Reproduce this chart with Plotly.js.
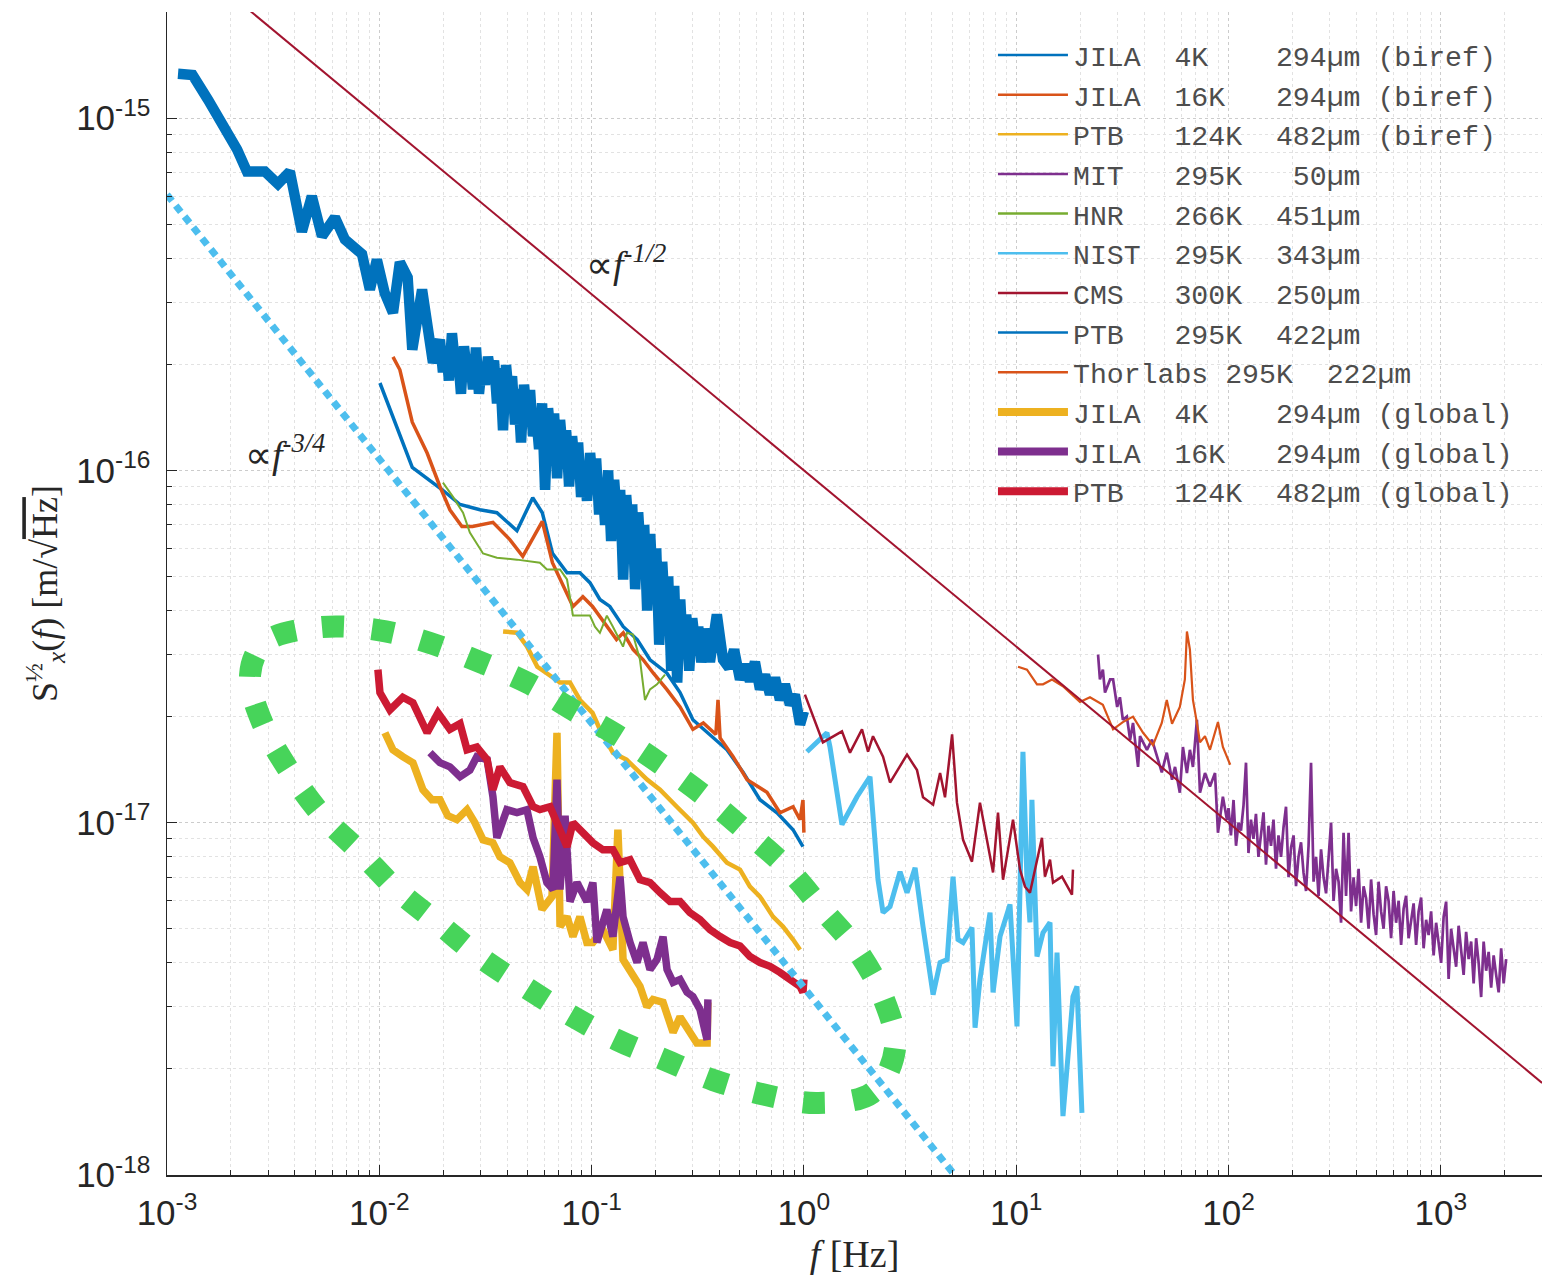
<!DOCTYPE html>
<html>
<head>
<meta charset="utf-8">
<script src="https://cdn.plot.ly/plotly-3.0.1.min.js"></script>
<style>html,body{margin:0;padding:0;background:#fff;}</style>
</head>
<body>
<div id="chart" style="width:1542px;height:1282px;"></div>
<script>
// ---------------- DATA (f in Hz, S in units of 1e-17 m/sqrt(Hz)) ----------------
const f_ptb295 = [1.127e-3,1.32e-3,1.56e-3,1.88e-3,2.14e-3,2.38e-3,2.89e-3,3.33e-3,3.79e-3,4.32e-3,4.81e-3,5.37e-3,6.18e-3,6.89e-3,7.68e-3,8.29e-3,9.03e-3,9.74e-3,1.06e-2,1.16e-2,1.25e-2,1.36e-2,1.43e-2,1.59e-2,1.79e-2,
  0.0193,0.01994,0.0206,0.02128,0.02199,0.02272,0.02347,0.02425,0.02505,0.02588,
  0.02674,0.02762,0.02854,0.02948,0.03046,0.03147,0.03251,0.03358,0.0347,0.03585,
  0.03703,0.03826,0.03953,0.04084,0.04219,0.04358,0.04503,0.04652,0.04806,0.04965,
  0.05129,0.05299,0.05475,0.05656,0.05843,0.06037,0.06237,0.06443,0.06656,0.06877,
  0.07104,0.07339,0.07582,0.07833,0.08093,0.0836,0.08637,0.08923,0.09219,0.09524,
  0.0984,0.1017,0.105,0.1085,0.1121,0.1158,0.1196,0.1236,0.1277,0.1319,
  0.1363,0.1408,0.1455,0.1503,0.1553,0.1604,0.1657,0.1712,0.1769,0.1827,
  0.1888,0.195,0.2015,0.2082,0.2151,0.2222,0.2295,0.2371,0.245,0.2531,
  0.2615,0.2701,0.2791,0.2883,0.2979,0.3077,0.3179,0.3285,0.3393,
  0.361,0.389,0.416,0.444,0.469,0.50,0.528,0.557,0.588,0.621,0.656,0.692,0.731,0.771,0.814,0.859,0.907,0.959,1.0];
const S_ptb295 = [133.5,132.5,112.8,94.5,81.3,70.5,70.5,65.0,70.5,47.6,60.0,46.2,52.2,45.2,43.0,41.1,32.6,39.6,31.9,28.0,39.0,35.3,22.0,32.6,20.2,
  23.5,19.0,22.5,18.0,24.5,20.0,21.5,16.5,22.5,19.0,
  21.0,17.0,22.3,16.5,20.0,17.5,21.0,18.5,20.5,15.5,
  19.5,13.0,19.9,16.0,18.5,13.5,17.0,12.0,17.5,14.0,
  16.9,12.5,14.5,11.5,15.5,8.8,15.0,12.0,14.5,9.5,
  13.9,11.0,13.0,9.0,12.5,10.0,12.0,8.4,10.5,8.2,
  11.2,9.0,10.8,7.5,9.5,7.0,10.0,6.3,9.4,7.2,
  8.8,4.9,8.5,6.5,8.0,4.6,7.6,5.5,7.0,4.0,
  6.6,4.5,6.0,3.2,5.5,3.8,5.0,2.7,4.7,2.5,
  4.3,3.0,3.9,2.7,3.8,3.2,3.6,2.85,3.55,
  2.86,3.90,2.90,2.75,3.10,2.55,2.81,2.52,2.86,2.39,2.63,2.31,2.58,2.23,2.47,2.16,2.31,1.90,2.07];

const f_jila4k_biref = [1.007e-2,1.16e-2,1.43e-2,1.98e-2,2.40e-2,2.98e-2,3.58e-2,4.45e-2,5.28e-2,5.86e-2,6.54e-2,7.66e-2,8.81e-2,9.82e-2,0.1094,0.1219,0.141,0.164,0.1884,0.226,0.261,0.300,0.350,0.434,0.517,0.621,0.747,0.889,0.99];
const S_jila4k_biref = [17.7,14.2,10.2,8.81,8.0,7.73,7.58,6.74,8.36,7.58,5.82,5.12,5.12,4.80,4.30,4.11,3.60,3.31,2.90,2.66,2.34,1.96,1.80,1.61,1.39,1.162,1.067,0.955,0.855];

const f_jila16k_biref = [1.16e-2,1.25e-2,1.43e-2,1.68e-2,1.93e-2,2.15e-2,2.45e-2,2.75e-2,3.43e-2,4.12e-2,4.74e-2,5.86e-2,6.54e-2,7.10e-2,8.17e-2,9.1e-2,0.101,0.131,0.141,0.157,0.175,0.195,0.226,0.261,0.300,0.336,0.385,0.394,0.403,0.464,0.54,0.67,0.771,0.889,0.959,0.99,1.0];
const S_jila16k_biref = [21.0,19.3,13.7,11.2,9.0,7.73,6.93,6.93,7.12,6.36,5.70,7.16,5.47,4.90,4.11,4.38,4.11,3.31,3.46,3.10,2.90,2.66,2.39,2.13,1.84,1.92,1.78,2.23,1.74,1.54,1.325,1.22,1.067,1.11,1.02,1.16,0.937];

const f_ptb124_biref = [3.83e-2,4.45e-2,4.97e-2,5.55e-2,6.12e-2,7.10e-2,7.91e-2,8.81e-2,0.101,0.1094,0.126,0.146,0.1825,0.210,0.252,0.30,0.336,0.373,0.434,0.50,0.557,0.621,0.715,0.797,0.889,0.959];
const S_ptb124_biref = [3.49,3.46,3.16,2.77,2.66,2.50,2.50,2.23,2.05,1.84,1.58,1.51,1.325,1.24,1.11,1.0,0.912,0.855,0.77,0.736,0.658,0.617,0.541,0.507,0.466,0.436];

const f_mit = [24.3,24.8,25.6,26.2,27.7,28.6,29.9,30.8,31.8,33.2,34.4,35.5,37.5,38.3,41.3,43.6,46.1,48.5,51.2,54.2,56.0,59.0,61.0,63.7,65.8,68.0,71.0,73.4,77.5,81.8,86.4,89.2,94.1,98.3,
  100,102.7,105.6,108.5,111.5,114.5,117.7,120.9,124.2,127.6,
  131.1,134.7,138.4,142.3,146.2,150.2,154.3,158.6,162.9,167.4,
  172,176.8,181.6,186.6,191.8,197.1,202.5,208,213.7,219.6,
  225.7,231.9,238.3,244.8,251.6,258.5,265.6,272.9,280.4,288.1,
  296,304.2,312.5,321.1,330,339,348.3,357.9,367.8,377.9,
  388.3,399,410,421.2,432.8,444.7,456.9,469.5,482.4,495.7,
  509.3,523.3,537.7,552.5,567.7,583.3,599.3,615.8,632.8,650.2,
  668.1,686.4,705.3,724.7,744.6,765.1,786.1,807.7,829.9,852.8,
  876.2,900.3,925.1,950.5,976.7,1003.5,1031.1,1059.5,1088.6,1118.6,
  1149.3,1180.9,1213.4,1246.8,1281.1,1316.3,1352.5,1389.7,1427.9,1467.2,
  1507.5,1549,1591.6,1635.4,1680.3,1726.5,1774,1822.8,1873,1924.5,
  1977.4,2031.8];
const S_mit = [3.0,2.55,2.72,2.34,2.55,2.55,2.13,2.27,1.96,2.0,1.72,1.92,1.44,1.76,1.61,1.72,1.54,1.39,1.58,1.325,1.44,1.216,1.64,1.383,1.61,1.44,1.96,1.216,1.383,1.266,1.383,0.936,1.185,1.02,
  1.10,0.92,1.16,0.86,1.00,0.95,1.12,1.48,0.82,1.02,
  0.90,1.06,0.80,0.93,1.07,0.76,0.98,0.86,1.02,0.74,
  0.92,0.80,0.97,1.11,0.70,0.85,0.92,0.66,0.80,0.88,
  0.72,0.64,0.86,1.48,0.68,0.80,0.62,0.84,0.70,0.63,
  0.80,1.0,0.60,0.74,0.68,0.52,0.936,0.62,0.936,0.56,
  0.70,0.58,0.74,0.52,0.66,0.61,0.50,0.69,0.55,0.48,
  0.68,0.56,0.50,0.66,0.60,0.47,0.64,0.52,0.60,0.45,
  0.57,0.62,0.47,0.53,0.59,0.45,0.56,0.613,0.44,0.53,
  0.48,0.56,0.42,0.52,0.46,0.40,0.54,0.597,0.36,0.50,
  0.44,0.39,0.51,0.43,0.37,0.49,0.41,0.46,0.35,0.47,
  0.40,0.32,0.46,0.38,0.43,0.34,0.42,0.37,0.33,0.44,
  0.35,0.41];

const f_hnr = [1.994e-2,2.22e-2,2.48e-2,2.67e-2,3.08e-2,3.58e-2,4.45e-2,5.71e-2,6.16e-2,7.10e-2,7.66e-2,8.17e-2,9.82e-2,0.1037,0.1094,0.118,0.126,0.1406,0.1468,0.1567,0.169,0.1784,0.1884,0.2033,0.2217];
const S_hnr = [9.23,8.42,7.58,6.66,5.81,5.65,5.58,5.47,5.23,5.23,4.90,3.87,3.87,3.60,3.46,3.87,3.60,3.16,3.46,3.42,2.90,2.23,2.39,2.47,2.63];

const f_nist = [1.033,1.284,1.327,1.511,1.779,2.048,2.234,2.359,2.545,2.837,3.06,3.34,3.64,4.06,4.38,4.73,5.04,5.32,5.62,6.19,6.40,6.75,7.53,7.78,8.39,9.35,10.09,10.76,11.24,11.61,11.86,12.53,13.37,14.43,14.91,15.57,16.61,17.54,18.51,19.33,20.4];
const S_nist = [1.59,1.80,1.64,0.988,1.185,1.35,0.689,0.556,0.578,0.726,0.633,0.745,0.507,0.325,0.401,0.409,0.703,0.466,0.457,0.504,0.262,0.359,0.556,0.33,0.475,0.586,0.264,1.59,0.689,0.521,1.162,0.417,0.487,0.521,0.2035,0.428,0.147,0.209,0.321,0.343,0.150];

const f_cms = [1.011,1.229,1.511,1.649,1.878,2.005,2.116,2.359,2.545,3.06,3.41,3.64,4.06,4.38,4.62,4.99,5.26,5.62,6.19,6.75,7.78,8.21,8.67,9.66,10.42,11.0,11.61,13.22,13.66,14.43,14.91,16.43,18.31,18.51];
const S_cms = [2.31,1.69,1.816,1.58,1.84,1.59,1.76,1.54,1.30,1.56,1.41,1.18,1.125,1.383,1.18,1.78,1.14,0.894,0.775,1.14,0.722,1.068,0.689,1.02,0.736,0.658,0.633,0.906,0.703,0.785,0.676,0.703,0.625,0.736];

const f_thorlabs = [10.2,11.24,12.53,13.37,14.75,16.6,19.97,22.26,25.6,28.6,31.8,35.5,39.6,44.1,48.5,51.2,54.2,59.0,62.3,63.7,65.8,68.0,71.0,73.4,77.5,81.8,89.2,94.1,101.9];
const S_thorlabs = [2.77,2.72,2.47,2.47,2.55,2.44,2.20,2.27,2.16,1.84,1.93,2.0,1.80,1.66,1.92,2.23,1.91,2.13,2.55,3.49,3.10,2.23,1.92,1.69,1.76,1.61,1.93,1.64,1.46];

const f_jila4k_global = [1.063e-2,1.159e-2,1.29e-2,1.44e-2,1.605e-2,1.77e-2,1.93e-2,2.10e-2,2.32e-2,2.59e-2,2.82e-2,3.08e-2,3.43e-2,3.70e-2,4.12e-2,4.60e-2,4.96e-2,5.30e-2,5.84e-2,6.51e-2,6.87e-2,7.10e-2,7.66e-2,8.17e-2,8.81e-2,9.5e-2,0.1014,0.113,0.126,0.133,0.1406,0.1517,0.169,0.1823,0.1946,0.217,0.242,0.261,0.290,0.313,0.350,0.353];
const S_jila4k_global = [1.80,1.61,1.54,1.48,1.24,1.162,1.162,1.047,1.02,1.089,1.0,0.894,0.877,0.80,0.77,0.676,0.646,0.75,0.567,0.617,1.80,0.507,0.541,0.475,0.541,0.457,0.457,0.497,0.436,0.955,0.409,0.383,0.343,0.30,0.315,0.309,0.254,0.281,0.254,0.237,0.237,0.309];

const f_jila16k_global = [1.733e-2,1.93e-2,2.15e-2,2.40e-2,2.67e-2,2.88e-2,3.22e-2,3.43e-2,3.58e-2,3.99e-2,4.45e-2,4.96e-2,5.30e-2,5.71e-2,6.16e-2,6.58e-2,6.87e-2,7.10e-2,7.50e-2,7.91e-2,8.53e-2,9.5e-2,0.1014,0.106,0.118,0.126,0.1361,0.1406,0.1517,0.1637,0.1746,0.1884,0.2033,0.217,0.2266,0.242,0.261,0.2816,0.300,0.324,0.35,0.353];
const S_jila16k_global = [1.58,1.48,1.44,1.35,1.41,1.54,1.51,1.185,0.906,1.089,1.068,1.089,0.906,0.80,0.676,0.646,1.325,0.646,1.047,0.597,0.676,0.597,0.676,0.457,0.567,0.475,0.703,0.541,0.457,0.401,0.457,0.383,0.409,0.475,0.383,0.352,0.359,0.33,0.321,0.295,0.242,0.315];

const f_ptb124_global = [9.85e-3,1.007e-2,1.122e-2,1.29e-2,1.44e-2,1.68e-2,1.89e-2,2.15e-2,2.40e-2,2.59e-2,2.88e-2,3.22e-2,3.43e-2,3.70e-2,4.12e-2,4.75e-2,5.30e-2,5.71e-2,6.37e-2,7.10e-2,7.66e-2,8.17e-2,9.1e-2,0.1014,0.113,0.126,0.1361,0.1517,0.169,0.1884,0.210,0.234,0.261,0.290,0.324,0.361,0.403,0.449,0.50,0.557,0.621,0.692,0.771,0.859,0.959,0.99,1.0];
const S_ptb124_global = [2.72,2.34,2.09,2.27,2.19,1.80,2.05,1.84,1.91,1.61,1.64,1.51,1.24,1.44,1.30,1.266,1.11,1.089,1.11,0.955,0.854,1.0,0.936,0.877,0.838,0.838,0.77,0.785,0.689,0.676,0.633,0.597,0.597,0.556,0.531,0.497,0.475,0.457,0.447,0.417,0.401,0.391,0.376,0.359,0.343,0.33,0.359];

// power-law guide lines (end points)
const f_fit_half = [1e-3, 3e3];
const S_fit_half = [316.2, 0.1826];      // proportional to f^-1/2
const f_fit_threeq = [1e-3, 10];
const S_fit_threeq = [60.6, 0.0606];     // proportional to f^-3/4

const legendNames = [
  'JILA\u00a0\u00a04K\u00a0\u00a0\u00a0\u00a0294\u00b5m\u00a0(biref)',
  'JILA\u00a0\u00a016K\u00a0\u00a0\u00a0294\u00b5m\u00a0(biref)',
  'PTB\u00a0\u00a0\u00a0124K\u00a0\u00a0482\u00b5m\u00a0(biref)',
  'MIT\u00a0\u00a0\u00a0295K\u00a0\u00a0\u00a050\u00b5m',
  'HNR\u00a0\u00a0\u00a0266K\u00a0\u00a0451\u00b5m',
  'NIST\u00a0\u00a0295K\u00a0\u00a0343\u00b5m',
  'CMS\u00a0\u00a0\u00a0300K\u00a0\u00a0250\u00b5m',
  'PTB\u00a0\u00a0\u00a0295K\u00a0\u00a0422\u00b5m',
  'Thorlabs\u00a0295K\u00a0\u00a0222\u00b5m',
  'JILA\u00a0\u00a04K\u00a0\u00a0\u00a0\u00a0294\u00b5m\u00a0(global)',
  'JILA\u00a0\u00a016K\u00a0\u00a0\u00a0294\u00b5m\u00a0(global)',
  'PTB\u00a0\u00a0\u00a0124K\u00a0\u00a0482\u00b5m\u00a0(global)'
];

// ---------------- STYLE ----------------
const C = {blue:'#0072BD', orange:'#D95319', yellow:'#EDB120', purple:'#7E2F8E', green:'#77AC30',
           lblue:'#4DBEEE', dred:'#A2142F', red:'#CC1A33', ell:'#47D45A'};
const legendColors = [C.blue, C.orange, C.yellow, C.purple, C.green, C.lblue, C.dred, C.blue, C.orange, C.yellow, C.purple, C.red];
const legendWidths = [2.5,2.5,2.5,2.5,2.5,2.5,2.5,2.5,2.5,8,8,8];
const U = 1e-17;
const sc = a => a.map(v => v * U);

function tr(f, s, color, width, dash) {
  const line = {color:color, width:width};
  if (dash) line.dash = dash;
  return {x:f, y:sc(s), type:'scatter', mode:'lines', showlegend:false, line:line, hoverinfo:'skip'};
}

const traces = [
  tr(f_ptb295, S_ptb295, C.blue, 10.5),
  tr(f_jila4k_biref, S_jila4k_biref, C.blue, 3.5),
  tr(f_jila16k_biref, S_jila16k_biref, C.orange, 3.5),
  tr(f_hnr, S_hnr, C.green, 2),
  tr(f_ptb124_biref, S_ptb124_biref, C.yellow, 4.5),
  tr(f_nist, S_nist, C.lblue, 5),
  tr(f_cms, S_cms, C.dred, 2.5),
  tr(f_mit, S_mit, C.purple, 2.7),
  tr(f_thorlabs, S_thorlabs, C.orange, 2.2),
  tr(f_jila4k_global, S_jila4k_global, C.yellow, 7.5),
  tr(f_jila16k_global, S_jila16k_global, C.purple, 7.5),
  tr(f_ptb124_global, S_ptb124_global, C.red, 7.5),
  tr(f_fit_half, S_fit_half, C.dred, 2),
  tr(f_fit_threeq, S_fit_threeq, C.lblue, 7, '8px,6px')
];
// legend entries (same order as reference legend)
legendNames.forEach((nm, i) => {
  traces.push({x:[null], y:[null], type:'scatter', mode:'lines', name:nm, showlegend:true,
               line:{color:legendColors[i], width:legendWidths[i]}, hoverinfo:'skip'});
});

// ---------------- green dotted loop (decoration, paper coords) ----------------
const loopPts = [[0.1127,0.4712],[0.1535,0.4686],[0.1913,0.4574],[0.2276,0.4411],[0.2625,0.4230],[0.2953,0.3998],[0.3295,0.3766],[0.3622,0.3508],[0.3927,0.3242],[0.4225,0.2941],[0.4509,0.2640],[0.4771,0.2279],[0.5018,0.1935],[0.5207,0.1531],[0.5295,0.1092],[0.5127,0.0705],[0.4735,0.0619],[0.4356,0.0688],[0.3971,0.0817],[0.3622,0.0989],[0.3273,0.1161],[0.2931,0.1376],[0.2604,0.1617],[0.2276,0.1874],[0.1971,0.2167],[0.1673,0.2451],[0.1404,0.2777],[0.1127,0.3095],[0.0895,0.3465],[0.0691,0.3895],[0.0604,0.4299],[0.0735,0.4600]];
function smoothClosed(p) {
  const n = p.length; let d = 'M' + p[0][0] + ',' + p[0][1];
  for (let i = 0; i < n; i++) {
    const p0 = p[(i-1+n)%n], p1 = p[i], p2 = p[(i+1)%n], p3 = p[(i+2)%n];
    const c1 = [p1[0]+(p2[0]-p0[0])/6, p1[1]+(p2[1]-p0[1])/6];
    const c2 = [p2[0]-(p3[0]-p1[0])/6, p2[1]-(p3[1]-p1[1])/6];
    d += ' C' + c1[0].toFixed(4) + ',' + c1[1].toFixed(4) + ' ' + c2[0].toFixed(4) + ',' + c2[1].toFixed(4) + ' ' + p2[0] + ',' + p2[1];
  }
  return d + ' Z';
}

// ---------------- axes ----------------
const xDec = [-3,-2,-1,0,1,2,3];
const yDec = [-18,-17,-16,-15];
function minorVals(lo, hi) { const v = []; for (let e = lo; e <= hi; e++) for (let k = 2; k <= 9; k++) v.push(k * Math.pow(10, e)); return v; }
const axisFont = {family:'Liberation Sans, Arial, sans-serif', size:35, color:'#262626'};
const serif = 'Liberation Serif, Times New Roman, serif';
const gridMajor = '#cccccc', gridMinor = '#e2e2e2';

const layout = {
  width:1542, height:1282,
  margin:{l:167, r:0, t:12, b:107},
  paper_bgcolor:'#ffffff', plot_bgcolor:'#ffffff',
  showlegend:true,
  xaxis:{type:'log', range:[-3, 3.4767], tickmode:'array',
    tickvals:xDec.map(e => Math.pow(10,e)), ticktext:xDec.map(e => '10<sup>' + (e<0?'-':'') + Math.abs(e) + '</sup>'),
    ticks:'inside', ticklen:10, tickwidth:1, tickcolor:'#262626', tickfont:axisFont, ticklabelstandoff:6,
    showline:true, linecolor:'#262626', linewidth:1.5, mirror:false, zeroline:false,
    showgrid:true, gridcolor:gridMajor, griddash:'dot', gridwidth:1,
    minor:{tickmode:'array', tickvals:minorVals(-3,3), ticks:'inside', ticklen:5, tickcolor:'#262626', showgrid:true, gridcolor:gridMinor, griddash:'dot', gridwidth:1},
    title:{text:'<i>f</i> [Hz]', font:{family:serif, size:38, color:'#262626'}, standoff:10}
  },
  yaxis:{type:'log', range:[-18, -14.699], tickmode:'array',
    tickvals:yDec.map(e => Math.pow(10,e)), ticktext:yDec.map(e => '10<sup>-' + Math.abs(e) + '</sup>'),
    ticks:'inside', ticklen:10, tickwidth:1, tickcolor:'#262626', tickfont:axisFont, ticklabelstandoff:8,
    showline:true, linecolor:'#262626', linewidth:1.5, mirror:false, zeroline:false,
    showgrid:true, gridcolor:gridMajor, griddash:'dot', gridwidth:1,
    minor:{tickmode:'array', tickvals:minorVals(-18,-15), ticks:'inside', ticklen:5, tickcolor:'#262626', showgrid:true, gridcolor:gridMinor, griddash:'dot', gridwidth:1},
    title:{text:'S<sup>\u00bd</sup><sub><i>x</i></sub>(<i>f</i>) [m/\u221a<span style="text-decoration:overline">Hz</span>]', font:{family:serif, size:36, color:'#262626'}, standoff:7}
  },
  legend:{x:0.6007, y:0.9844, xanchor:'left', yanchor:'top', bgcolor:'rgba(0,0,0,0)', borderwidth:0,
    font:{family:'Liberation Mono, Courier New, monospace', size:28.2, color:'#4d4d4d'},
    itemwidth:70, traceorder:'normal'},
  annotations:[
    {xref:'paper', yref:'paper', x:0.3338, y:0.785, xanchor:'center', yanchor:'middle', showarrow:false,
     text:'\u221d<i>f</i><sup><i>-1/2</i></sup>', font:{family:serif, size:38, color:'#262626'}},
    {xref:'paper', yref:'paper', x:0.0858, y:0.6217, xanchor:'center', yanchor:'middle', showarrow:false,
     text:'\u221d<i>f</i><sup><i>-3/4</i></sup>', font:{family:serif, size:38, color:'#262626'}}
  ],
  shapes:[
    {type:'path', xref:'paper', yref:'paper', layer:'above', path:smoothClosed(loopPts),
     line:{color:C.ell, width:22, dash:'22px,28px'}, fillcolor:'rgba(0,0,0,0)'}
  ]
};

Plotly.newPlot('chart', traces, layout, {displayModeBar:false, staticPlot:true});
</script>
</body>
</html>
